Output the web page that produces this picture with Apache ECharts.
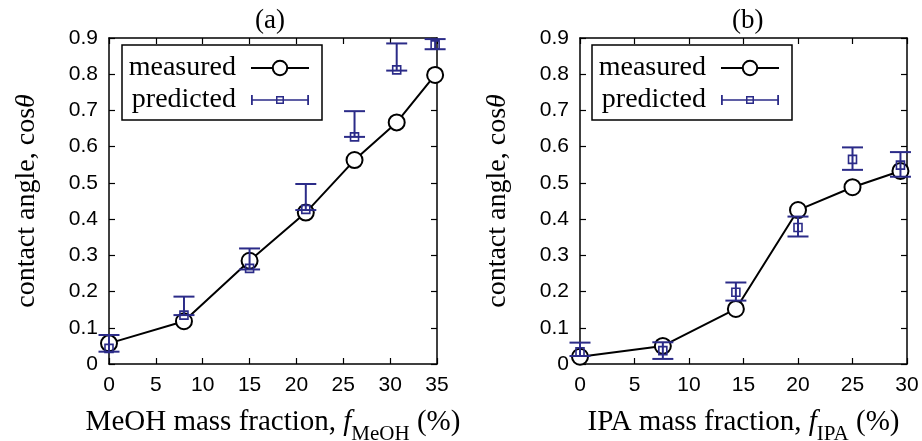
<!DOCTYPE html>
<html>
<head>
<meta charset="utf-8">
<title>contact angle</title>
<script src="https://cdn.jsdelivr.net/npm/echarts@6/dist/echarts.min.js"></script>
<style>
	html, body { margin: 0; padding: 0; background: #fff; }
	#chart { width: 922px; height: 441px; }
</style>
</head>
<body>
<div id="chart"></div>
<script>
// (a) MeOH
var meohX = [0, 8, 15, 21, 26.2, 30.7, 34.8];
var meohMeasured = [0.057, 0.118, 0.285, 0.418, 0.563, 0.667, 0.798];
var meohPredicted = [0.043, 0.135, 0.264, 0.427, 0.627, 0.812, 0.881];
var meohPredLow = [0.034, 0.135, 0.261, 0.425, 0.627, 0.81, 0.869];
var meohPredHigh = [0.08, 0.186, 0.319, 0.497, 0.698, 0.885, 0.897];

// (b) IPA
var ipaX = [0, 7.6, 14.3, 20, 25, 29.4];
var ipaMeasured = [0.02, 0.05, 0.152, 0.425, 0.488, 0.533];
var ipaPredicted = [0.034, 0.037, 0.198, 0.377, 0.565, 0.549];
var ipaPredLow = [0.022, 0.014, 0.175, 0.352, 0.536, 0.517];
var ipaPredHigh = [0.059, 0.06, 0.225, 0.407, 0.598, 0.585];

var panelTitles = ['(a)', '(b)'];
var navy = '#2b2b88';
var serif = 'Liberation Serif';
var sans = 'Liberation Sans';

var predictedIcon = 'path://M0 8.2H58V9.8H0Z'
	+ 'M0 4H1.8V14H0Z'
	+ 'M56.2 4H58V14H56.2Z'
	+ 'M25 5H33V13H25ZM26.5 6.5V11.5H31.5V6.5Z';

function zip(xs, ys) {
	var out = [];
	for (var i = 0; i < xs.length; ++i) {
		out.push([xs[i], ys[i]]);
	}
	return out;
}

function zipErr(xs, v, lo, hi) {
	var out = [];
	for (var i = 0; i < xs.length; ++i) {
		out.push([xs[i], v[i], lo[i], hi[i]]);
	}
	return out;
}

function renderErr(params, api) {
	var x = api.value(0);
	var p = api.coord([x, api.value(1)]);
	var lo = api.coord([x, api.value(2)]);
	var hi = api.coord([x, api.value(3)]);
	var w = 10.5;
	var st = { stroke: navy, lineWidth: 2, fill: null };
	return {
		type: 'group',
		children: [
			{ type: 'line', shape: { x1: p[0], y1: hi[1], x2: p[0], y2: lo[1] }, style: st },
			{ type: 'line', shape: { x1: p[0] - w, y1: hi[1], x2: p[0] + w, y2: hi[1] }, style: st },
			{ type: 'line', shape: { x1: p[0] - w, y1: lo[1], x2: p[0] + w, y2: lo[1] }, style: st },
			{ type: 'rect', shape: { x: p[0] - 4, y: p[1] - 4, width: 8, height: 8 }, style: { stroke: navy, lineWidth: 1.6, fill: null } }
		]
	};
}

var axisLine = { show: true, onZero: false, lineStyle: { color: '#000', width: 1.5 } };
var axisTick = { show: true, inside: true, length: 6, lineStyle: { color: '#000', width: 1.2 } };

function xAxes(grid, max, nameText) {
	return [{
		gridIndex: grid, type: 'value', min: 0, max: max, interval: 5, position: 'bottom',
		axisLine: axisLine, axisTick: axisTick, splitLine: { show: false },
		axisLabel: { color: '#000', fontFamily: sans, fontSize: 21, margin: 11 },
		name: nameText, nameLocation: 'middle', nameGap: 44, nameMoveOverlap: false,
		nameTextStyle: {
			rich: {
				n: { fontFamily: serif, fontSize: 29, color: '#000', lineHeight: 30, verticalAlign: 'top' },
				i: { fontFamily: serif, fontSize: 29, fontStyle: 'italic', color: '#000', lineHeight: 30, verticalAlign: 'top' },
				s: { fontFamily: serif, fontSize: 21, color: '#000', lineHeight: 21, verticalAlign: 'top', padding: [16, 0, 0, 0] }
			}
		}
	}, {
		gridIndex: grid, type: 'value', min: 0, max: max, interval: 5, position: 'top',
		axisLine: axisLine, axisTick: axisTick, splitLine: { show: false },
		axisLabel: { show: false }
	}];
}

function yAxes(grid) {
	return [{
		gridIndex: grid, type: 'value', min: 0, max: 0.9, interval: 0.1, position: 'left',
		axisLine: axisLine, axisTick: axisTick, splitLine: { show: false },
		axisLabel: { color: '#000', fontFamily: sans, fontSize: 21, margin: 11 },
		name: '{n|contact angle, cos}{i|θ}', nameLocation: 'middle', nameGap: 68, nameMoveOverlap: false,
		nameTextStyle: {
			rich: {
				n: { fontFamily: serif, fontSize: 28, color: '#000' },
				i: { fontFamily: serif, fontSize: 28, fontStyle: 'italic', color: '#000' }
			}
		}
	}, {
		gridIndex: grid, type: 'value', min: 0, max: 0.9, interval: 0.1, position: 'right',
		axisLine: axisLine, axisTick: axisTick, splitLine: { show: false },
		axisLabel: { show: false }
	}];
}

function legendAt(left) {
	return {
		left: left, top: 45, orient: 'vertical', align: 'right',
		selectedMode: false,
		borderColor: '#000', borderWidth: 1.5, borderRadius: 0,
		padding: [8, 12, 5, 4], itemGap: 2,
		itemWidth: 58, itemHeight: 18,
		textStyle: { fontFamily: serif, fontSize: 28, color: '#000', width: 110, align: 'right', lineHeight: 30, padding: [0, 10, 0, 0] },
		data: [{ name: 'measured' }, { name: 'predicted', icon: predictedIcon }]
	};
}

function measuredSeries(xi, yi, data) {
	return {
		name: 'measured', type: 'line', xAxisIndex: xi, yAxisIndex: yi, data: data,
		symbol: 'emptyCircle', symbolSize: 16, z: 2,
		lineStyle: { color: '#000', width: 2 },
		itemStyle: { color: '#000', borderColor: '#000', borderWidth: 2 }
	};
}

function predictedSeries(xi, yi, data) {
	return {
		name: 'predicted', type: 'custom', xAxisIndex: xi, yAxisIndex: yi, data: data,
		renderItem: renderErr, z: 3,
		encode: { x: 0, y: 1 },
		itemStyle: { color: navy }
	};
}

var chart = echarts.init(document.getElementById('chart'));
var option = {
	animation: false,
	title: [
		{ text: panelTitles[0], left: 250, top: 2, textStyle: { fontFamily: serif, fontSize: 27, fontWeight: 'normal', color: '#000' } },
		{ text: panelTitles[1], left: 727, top: 2, textStyle: { fontFamily: serif, fontSize: 27, fontWeight: 'normal', color: '#000' } }
	],
	legend: [legendAt(122), legendAt(592)],
	grid: [
		{ left: 109, right: 485, top: 38, bottom: 77, outerBoundsMode: 'none' },
		{ left: 580, right: 15, top: 38, bottom: 77, outerBoundsMode: 'none' }
	],
	xAxis: xAxes(0, 35, '{n|MeOH mass fraction, }{i|f}{s|MeOH}{n| (%)}')
		.concat(xAxes(1, 30, '{n|IPA mass fraction, }{i|f}{s|IPA}{n| (%)}')),
	yAxis: yAxes(0).concat(yAxes(1)),
	series: [
		measuredSeries(0, 0, zip(meohX, meohMeasured)),
		predictedSeries(0, 0, zipErr(meohX, meohPredicted, meohPredLow, meohPredHigh)),
		measuredSeries(2, 2, zip(ipaX, ipaMeasured)),
		predictedSeries(2, 2, zipErr(ipaX, ipaPredicted, ipaPredLow, ipaPredHigh))
	]
};
chart.setOption(option);
</script>
</body>
</html>
